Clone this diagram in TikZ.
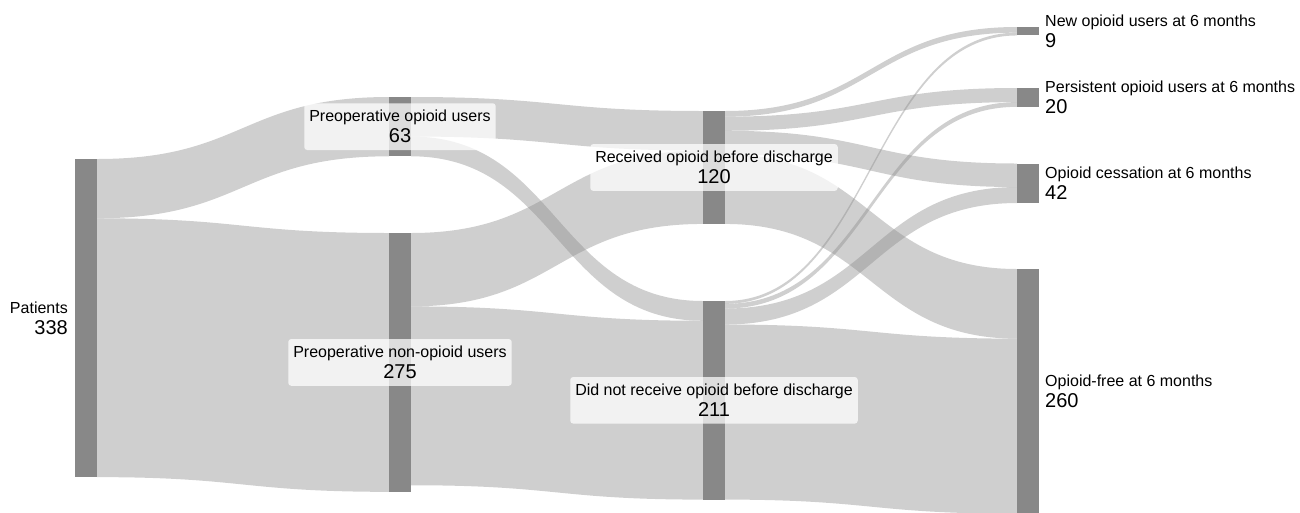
\documentclass[tikz,border=0pt]{standalone}
\usepackage{fontspec}
\setmainfont{Liberation Sans}
\usetikzlibrary{positioning,calc}
\pgfdeclarelayer{bg}
\pgfsetlayers{bg,main}
\definecolor{sgray}{HTML}{888888}
\newcommand{\fu}{0.9412pt}
\newcommand{\numfont}{\fontsize{20}{21}\selectfont}
\tikzstyle{Snode}=[fill=sgray,minimum width=22pt,inner sep=0,outer sep=0,anchor=north west]
\tikzstyle{Slink}=[fill=sgray,fill opacity=0.4]
\tikzstyle{Slab}=[font=\fontsize{16}{21}\selectfont,inner xsep=4pt,inner ysep=2pt]
\tikzstyle{Sbox}=[Slab,fill=white,fill opacity=0.72,text opacity=1,rounded corners=3pt,inner xsep=5pt,inner ysep=7pt,align=center]
\newcommand{\stage}[4]{\node[Snode,minimum height=#4*\fu] (#1) at (#2,#3) {};}
\newcommand{\flow}[5]{\fill[Slink] let \p1=(#1.north east), \p2=(#3.north west) in
  (\x1,{\y1-(#2)*\fu}) .. controls ({(\x1+\x2)/2},{\y1-(#2)*\fu}) and ({(\x1+\x2)/2},{\y2-(#4)*\fu}) .. (\x2,{\y2-(#4)*\fu})
  -- (\x2,{\y2-(#4+#5)*\fu}) .. controls ({(\x1+\x2)/2},{\y2-(#4+#5)*\fu}) and ({(\x1+\x2)/2},{\y1-(#2+#5)*\fu}) .. (\x1,{\y1-(#2+#5)*\fu}) -- cycle;}
\begin{document}
\begin{tikzpicture}[x=1pt,y=-1pt]
  \useasboundingbox (0,0) rectangle (1300,512);

  \stage{pat}{75}{159}{338}
  \stage{pre}{389}{97}{63}
  \stage{npre}{389}{233}{275}
  \stage{rec}{703}{111}{120}
  \stage{nrec}{703}{301}{211}
  \stage{new}{1017}{27}{9}
  \stage{per}{1017}{88}{20}
  \stage{ces}{1017}{163.5}{42}
  \stage{fre}{1017}{269}{260}

  \begin{pgfonlayer}{bg}
    \flow{pat}{0}{pre}{0}{63}
    \flow{pat}{63}{npre}{0}{275}
    \flow{pre}{0}{rec}{0}{42}
    \flow{pre}{42}{nrec}{0}{21}
    \flow{npre}{0}{rec}{42}{78}
    \flow{npre}{78}{nrec}{21}{190}
    \flow{rec}{0}{new}{0}{6}
    \flow{rec}{6}{per}{0}{15}
    \flow{rec}{21}{ces}{0}{25}
    \flow{rec}{46}{fre}{0}{74}
    \flow{nrec}{0}{new}{6}{3}
    \flow{nrec}{3}{per}{15}{5}
    \flow{nrec}{8}{ces}{25}{17}
    \flow{nrec}{25}{fre}{74}{186}
  \end{pgfonlayer}

  \node[Slab,left=3pt of pat,align=right] (patl) {Patients\\{\numfont 338}};
  \node[Sbox] (prel) at (pre) {Preoperative opioid users\\{\numfont 63}};
  \node[Sbox] (nprel) at (npre) {Preoperative non-opioid users\\{\numfont 275}};
  \node[Sbox] (recl) at (rec) {Received opioid before discharge\\{\numfont 120}};
  \node[Sbox] (nrecl) at (nrec) {Did not receive opioid before discharge\\{\numfont 211}};
  \node[Slab,right=2pt of new,align=left] (newl) {New opioid users at 6 months\\{\numfont 9}};
  \node[Slab,right=2pt of per,align=left] (perl) {Persistent opioid users at 6 months\\{\numfont 20}};
  \node[Slab,right=2pt of ces,align=left] (cesl) {Opioid cessation at 6 months\\{\numfont 42}};
  \node[Slab,right=2pt of fre,align=left] (frel) {Opioid-free at 6 months\\{\numfont 260}};
\end{tikzpicture}
\end{document}
